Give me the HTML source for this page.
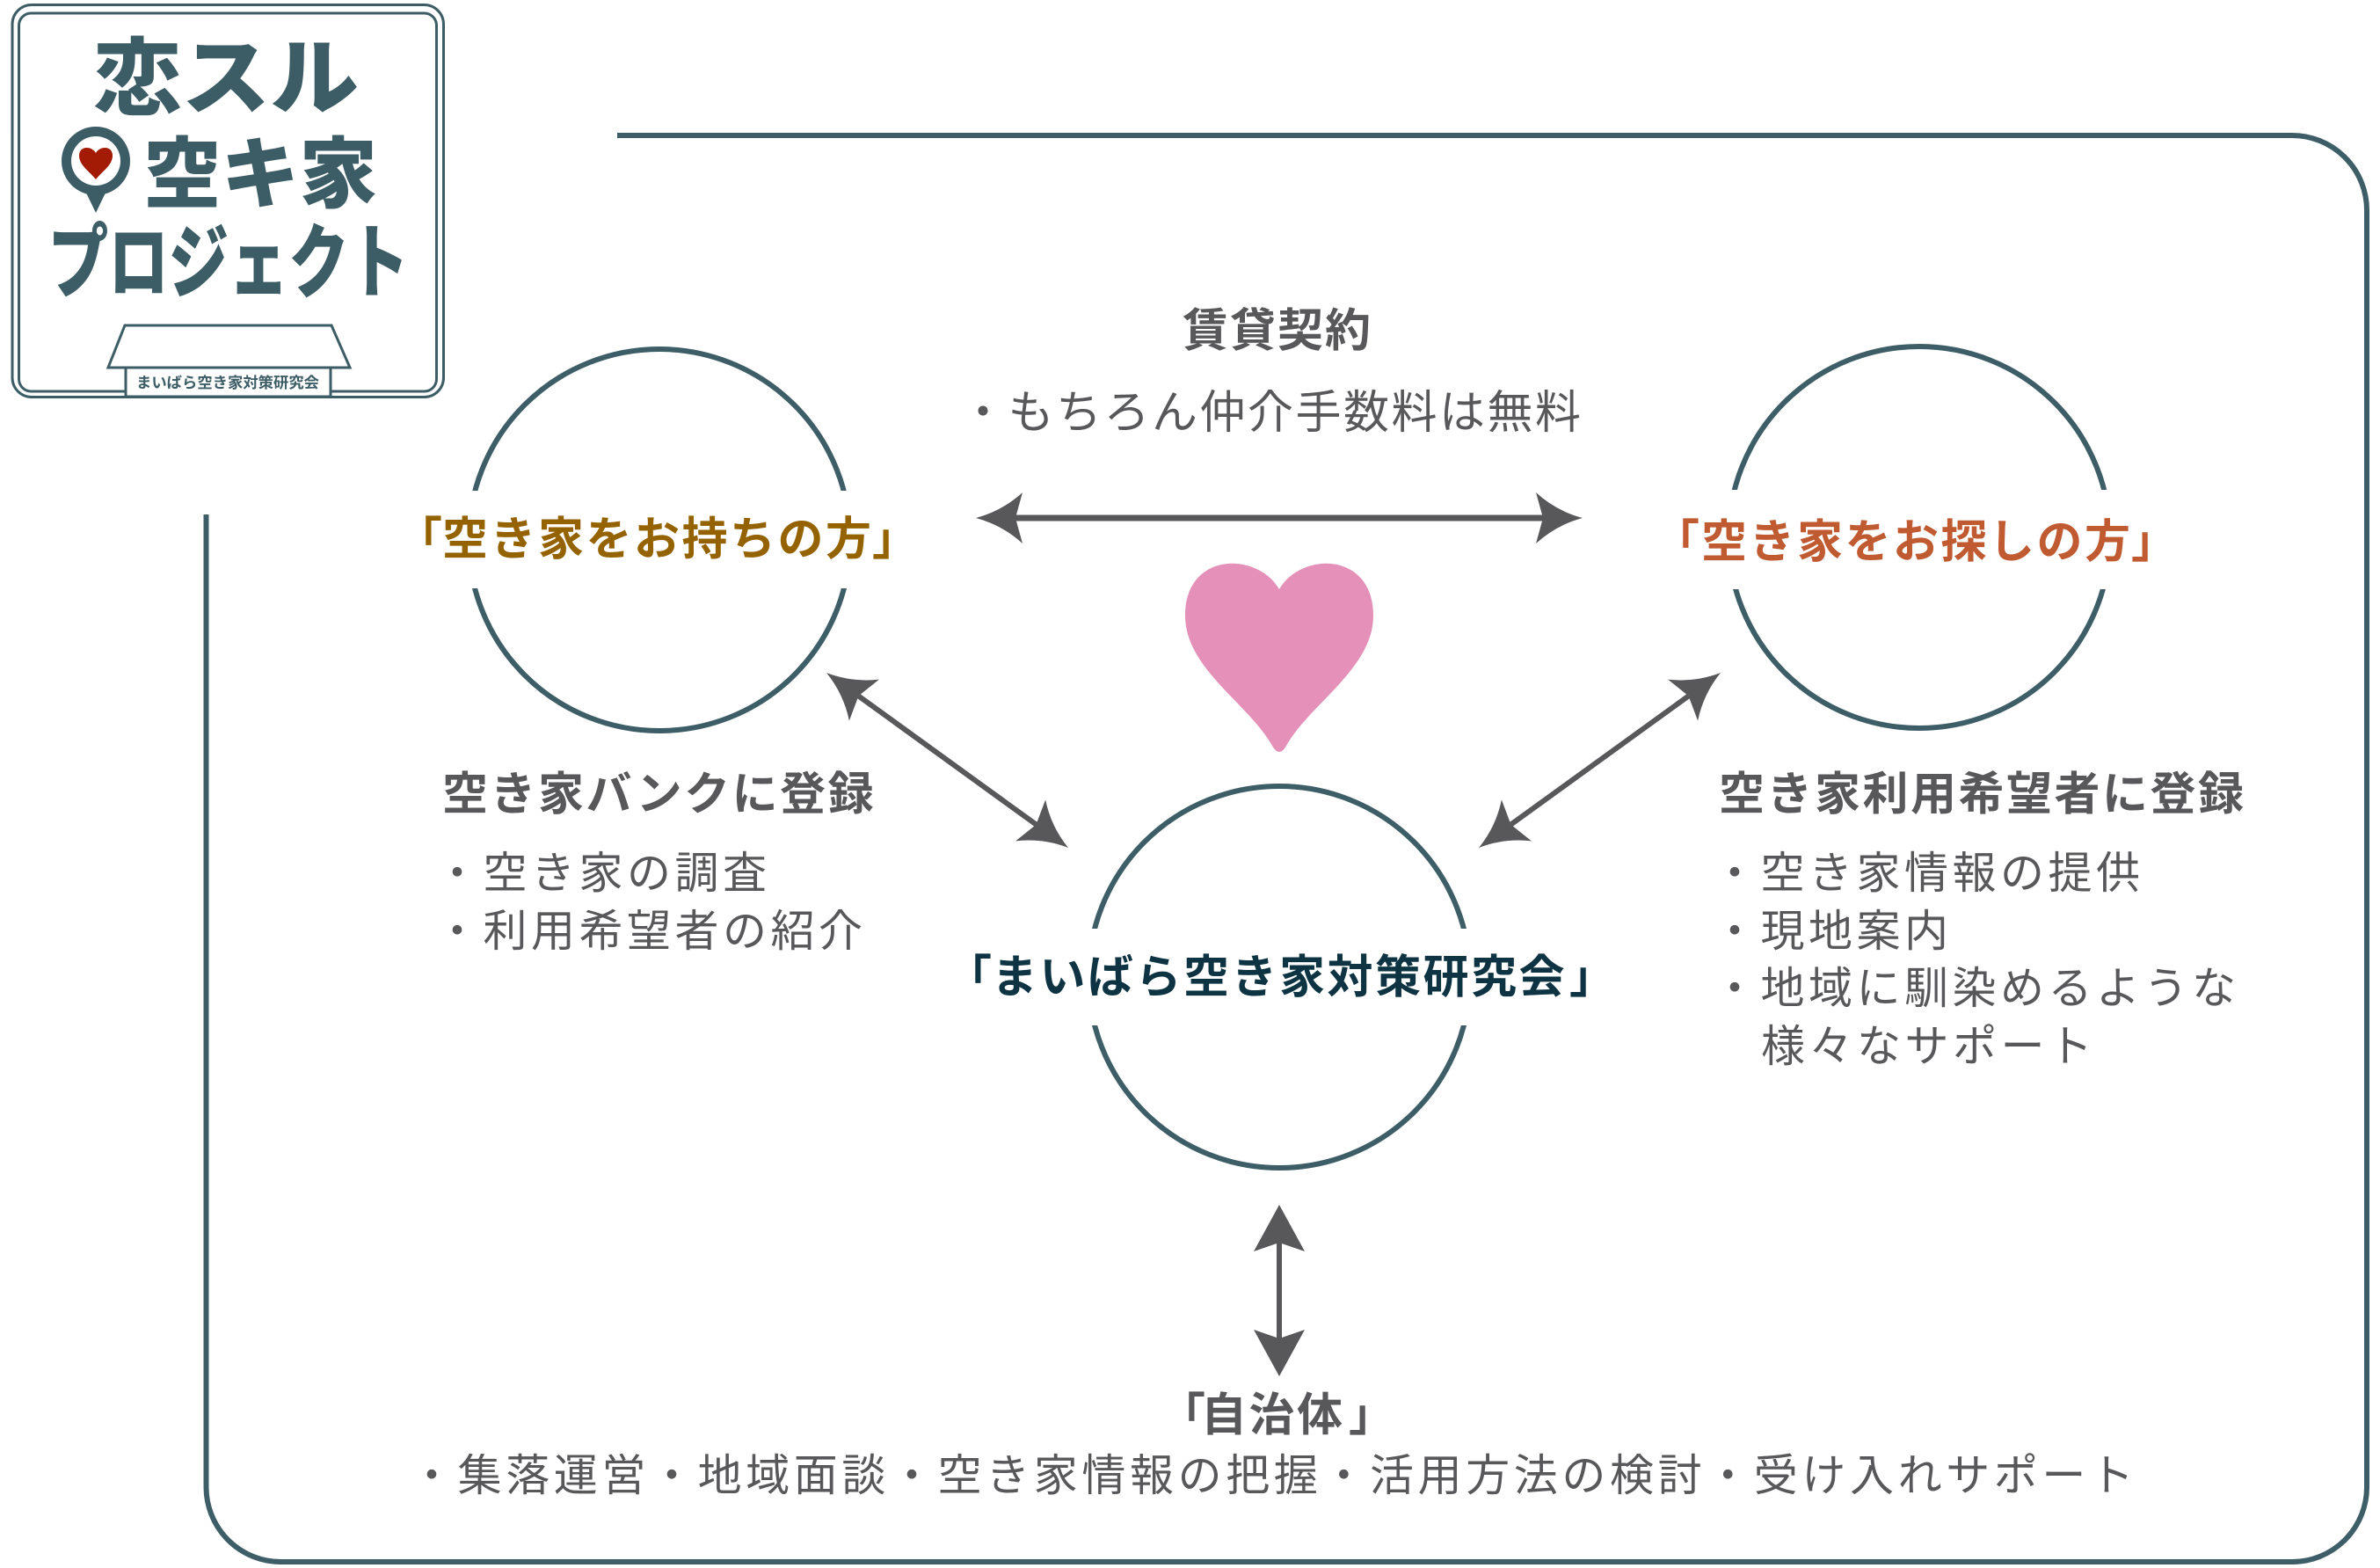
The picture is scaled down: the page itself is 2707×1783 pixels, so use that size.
<!DOCTYPE html>
<html lang="ja">
<head>
<meta charset="utf-8">
<style>
  html, body { margin:0; padding:0; background:#fff; }
  body { width:2707px; height:1783px; position:relative; overflow:hidden;
         font-family:"Liberation Sans","Noto Sans CJK JP",sans-serif; }
  svg.bg { position:absolute; left:0; top:0; }
  .t { position:absolute; white-space:nowrap; line-height:1; font-family:"Liberation Sans","Noto Sans CJK JP",sans-serif; }
  .g { color:#58575a; }
  .b { font-weight:700; }
  .h { font-size:52px; letter-spacing:2.5px; }
  .r { font-size:50px; letter-spacing:4.5px; }
</style>
</head>
<body>
<svg class="bg" width="2707" height="1783" viewBox="0 0 2707 1783" xmlns="http://www.w3.org/2000/svg">
  <!-- main frame -->
  <path d="M702 154 H2607 A85 85 0 0 1 2692 239 V1691 A85 85 0 0 1 2607 1776 H319.5 A85 85 0 0 1 234.5 1691 V585"
        fill="none" stroke="#3d5e67" stroke-width="6"/>

  <!-- circles -->
  <g fill="none" stroke="#3d5e67" stroke-width="6">
    <circle cx="750" cy="614" r="217"/>
    <circle cx="2183" cy="611" r="217"/>
    <circle cx="1455" cy="1111" r="217"/>
  </g>
  <!-- gaps for labels -->
  <g fill="#fff">
    <rect x="500" y="558" width="500" height="111"/>
    <rect x="1930" y="557" width="510" height="113"/>
    <rect x="1200" y="1056" width="510" height="110"/>
  </g>

  <!-- heart -->
  <path d="M1455 670 C1480 627 1562 627 1562 700 C1562 760 1490 800 1463 848 Q1455 862 1447 848 C1420 800 1348 760 1348 700 C1348 627 1430 627 1455 670 Z" fill="#e590b8"/>

  <!-- arrows -->
  <g fill="#58575a" stroke="none">
    <path d="M1110 589 Q1140 581 1163 560 L1155 589 L1163 618 Q1140 597 1110 589Z"/>
    <path d="M1800 589 Q1770 581 1747 560 L1755 589 L1747 618 Q1770 597 1800 589Z"/>
    <path d="M940 765 Q959.6 789.1 965.9 819.6 L976.5 791.4 L999.9 772.6 Q969 776.1 940 765Z"/>
    <path d="M1215 964 Q1195.4 939.9 1189.1 909.4 L1178.5 937.6 L1155.1 956.4 Q1186 952.9 1215 964Z"/>
    <path d="M1957 765 Q1937.4 789.1 1931.1 819.6 L1920.5 791.4 L1897.1 772.6 Q1928 776.1 1957 765Z"/>
    <path d="M1682 964 Q1701.6 939.9 1707.9 909.4 L1718.5 937.6 L1741.9 956.4 Q1711 952.9 1682 964Z"/>
    <path d="M1455 1370 L1484 1423 L1455 1413 L1426 1423Z"/>
    <path d="M1455 1565 L1484 1512 L1455 1522 L1426 1512Z"/>
  </g>
  <g stroke="#58575a" fill="none">
    <line x1="1150" y1="589" x2="1760" y2="589" stroke-width="7"/>
    <line x1="976.5" y1="791.4" x2="1178.5" y2="937.6" stroke-width="6"/>
    <line x1="1920.5" y1="791.4" x2="1718.5" y2="937.6" stroke-width="6"/>
    <line x1="1455" y1="1410" x2="1455" y2="1525" stroke-width="6"/>
  </g>

  <!-- logo -->
  <g fill="none" stroke="#3c5d66" stroke-width="3">
    <rect x="14" y="5.5" width="490.5" height="446" rx="22" ry="22"/>
    <rect x="21.5" y="15" width="475" height="430" rx="14" ry="14"/>
  </g>
  <g fill="#3c5d66" font-family="'Liberation Sans','Noto Sans CJK JP',sans-serif" font-weight="900">
    <text x="106" y="122" font-size="95" textLength="302" lengthAdjust="spacingAndGlyphs">恋スル</text>
    <text x="163" y="229" font-size="88" textLength="266" lengthAdjust="spacingAndGlyphs">空キ家</text>
    <text x="55" y="331" font-size="92" textLength="410" lengthAdjust="spacingAndGlyphs">プロジェクト</text>
  </g>
  <!-- pin -->
  <circle cx="109" cy="183" r="39" fill="#3c5d66"/>
  <path d="M95 213 L123 213 L109 242 Z" fill="#3c5d66"/>
  <circle cx="109" cy="183" r="28" fill="#fff"/>
  <path d="M109 174 C113 166 128 165 128 177 C128 188 116 195 109 204 C102 195 90 188 90 177 C90 165 105 166 109 174 Z" fill="#a31b05"/>
  <!-- house -->
  <path d="M142 370 L377 370 L398 418 L123 418 Z" fill="#fff" stroke="#3c5d66" stroke-width="3"/>
  <rect x="143" y="418" width="233" height="33" fill="#fff" stroke="#3c5d66" stroke-width="3"/>
  <text x="155" y="441" font-size="17" font-weight="700" fill="#3c5d66" textLength="208" lengthAdjust="spacingAndGlyphs"
        font-family="'Liberation Sans','Noto Sans CJK JP',sans-serif">まいばら空き家対策研究会</text>
</svg>

<!-- top contract -->
<div class="t g b" style="left:1345px;top:351px;font-size:52px;letter-spacing:2px;">賃貸契約</div>
<div class="t g" style="left:1092px;top:444px;font-size:52px;letter-spacing:2.5px;">・もちろん仲介手数料は無料</div>

<!-- left label -->
<div class="t b h" style="left:451px;top:588px;color:#956200;">「</div>
<div class="t b h" style="left:503px;top:588px;color:#956200;">空き家をお持ちの方</div>
<div class="t b h" style="left:992px;top:588px;color:#956200;">」</div>

<!-- right label -->
<div class="t b h" style="left:1881px;top:591px;color:#c05a31;">「</div>
<div class="t b h" style="left:1935px;top:591px;color:#c05a31;">空き家をお探しの方</div>
<div class="t b h" style="left:2424px;top:591px;color:#c05a31;">」</div>

<!-- center label -->
<div class="t b h" style="left:1076px;top:1086px;color:#0e3443;">「</div>
<div class="t b h" style="left:1128px;top:1086px;color:#0e3443;">まいばら空き家対策研究会</div>
<div class="t b h" style="left:1785px;top:1086px;color:#0e3443;">」</div>

<!-- left texts -->
<div class="t g b h" style="left:503px;top:878px;">空き家バンクに登録</div>
<div class="t g r" style="left:495px;top:968px;">・空き家の調査</div>
<div class="t g r" style="left:495px;top:1034px;">・利用希望者の紹介</div>

<!-- right texts -->
<div class="t g b h" style="left:1955px;top:878px;">空き家利用希望者に登録</div>
<div class="t g r" style="left:1948px;top:968px;">・空き家情報の提供</div>
<div class="t g r" style="left:1948px;top:1034px;">・現地案内</div>
<div class="t g r" style="left:1948px;top:1099px;">・地域に馴染めるような</div>
<div class="t g r" style="left:2003px;top:1165px;">様々なサポート</div>

<!-- bottom -->
<div class="t g b h" style="left:1319px;top:1584px;">「</div>
<div class="t g b h" style="left:1366px;top:1584px;">自治体</div>
<div class="t g b h" style="left:1534px;top:1584px;">」</div>
<div class="t g" style="left:466px;top:1653px;font-size:50px;letter-spacing:4.6px;">・集落運営・地域面談・空き家情報の把握・活用方法の検討・受け入れサポート</div>
</body>
</html>
